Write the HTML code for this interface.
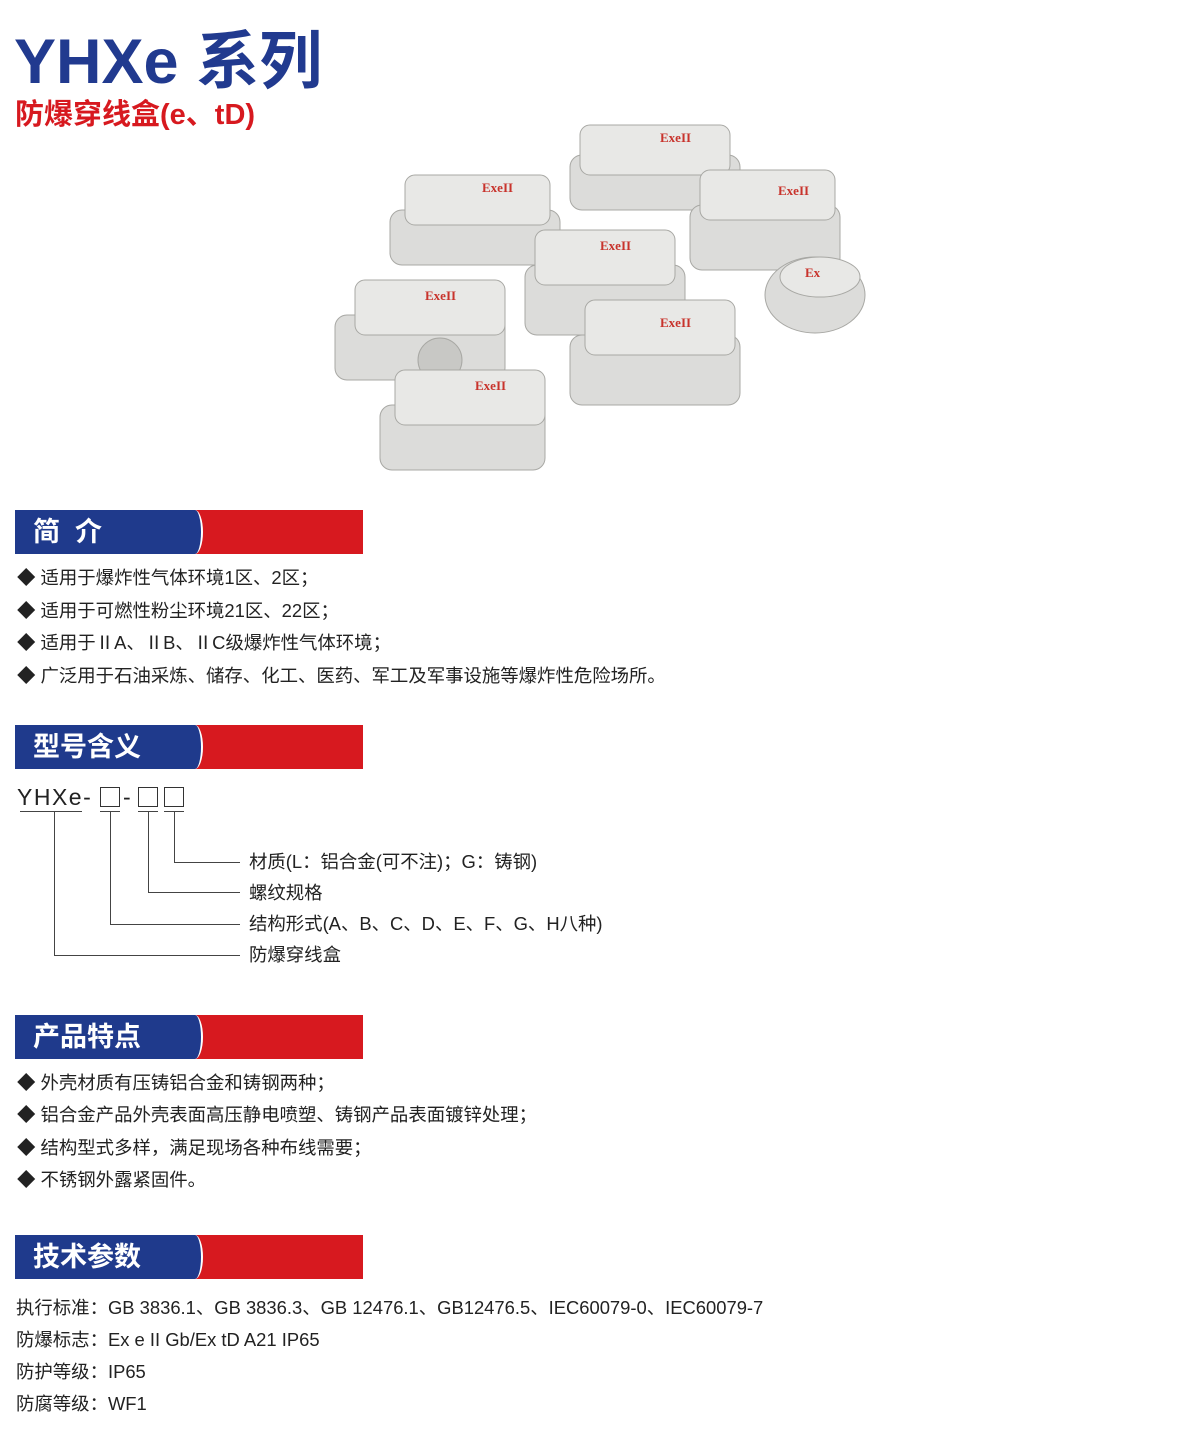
<!DOCTYPE html>
<html><head><meta charset="utf-8"><style>
body{margin:0;width:1200px;height:1450px;background:#fff;position:relative;font-family:"Liberation Sans","Noto Sans CJK SC",sans-serif;color:#222;overflow:hidden}
.a{position:absolute;white-space:nowrap}
.t{font-size:18.4px;line-height:20px}
.ban{position:absolute;left:15px;width:348px;height:44px;background:#d7191f;overflow:hidden}
.ban .b{position:absolute;left:0;top:0;width:186px;height:44px;background:#1f3a8c;border-right:2px solid #fff;border-radius:0 8px 8px 0/0 22px 22px 0}
.ban span{position:absolute;left:18px;top:6px;color:#fff;font-size:27px;font-weight:bold;line-height:32px}
.ln{position:absolute;background:#444}
.sq{position:absolute;top:787px;width:18px;height:18px;border:1.5px solid #333}
</style></head><body>
<div class="a" style="left:14px;top:26px;font-size:63px;font-weight:bold;color:#213a8f;line-height:72px">YHXe 系列</div>
<div class="a" style="left:15px;top:98px;font-size:29px;font-weight:bold;color:#d7191f;line-height:34px">防爆穿线盒(e、tD)</div>

<svg class="a" style="left:330px;top:115px" width="550" height="370">
<g fill="#dcdcda" stroke="#a8a8a4">
<rect x="240" y="40" width="170" height="55" rx="12"/><rect x="250" y="10" width="150" height="50" rx="10" fill="#e8e8e6"/>
<rect x="60" y="95" width="170" height="55" rx="12"/><rect x="75" y="60" width="145" height="50" rx="10" fill="#e8e8e6"/>
<rect x="360" y="90" width="150" height="65" rx="12"/><rect x="370" y="55" width="135" height="50" rx="10" fill="#e8e8e6"/>
<rect x="195" y="150" width="160" height="70" rx="12"/><rect x="205" y="115" width="140" height="55" rx="10" fill="#e8e8e6"/>
<ellipse cx="485" cy="180" rx="50" ry="38"/><ellipse cx="490" cy="162" rx="40" ry="20" fill="#e8e8e6"/>
<rect x="5" y="200" width="170" height="65" rx="12"/><rect x="25" y="165" width="150" height="55" rx="10" fill="#e8e8e6"/>
<circle cx="110" cy="245" r="22" fill="#c8c8c5"/>
<rect x="240" y="220" width="170" height="70" rx="12"/><rect x="255" y="185" width="150" height="55" rx="10" fill="#e8e8e6"/>
<rect x="50" y="290" width="165" height="65" rx="12"/><rect x="65" y="255" width="150" height="55" rx="10" fill="#e8e8e6"/>
</g>
<g fill="#c8332c" font-size="13" font-weight="bold" font-family="Liberation Serif">
<text x="330" y="27">ExeII</text><text x="152" y="77">ExeII</text><text x="448" y="80">ExeII</text><text x="270" y="135">ExeII</text><text x="475" y="162">Ex</text><text x="95" y="185">ExeII</text><text x="330" y="212">ExeII</text><text x="145" y="275">ExeII</text>
</g>
</svg>

<div class="ban" style="top:510px"><div class="b"></div><span>简&nbsp;&nbsp;介</span></div>
<div class="a t" style="left:17px;top:568px">◆ 适用于爆炸性气体环境1区、2区；</div>
<div class="a t" style="left:17px;top:601px">◆ 适用于可燃性粉尘环境21区、22区；</div>
<div class="a t" style="left:17px;top:633px">◆ 适用于ⅡA、ⅡB、ⅡC级爆炸性气体环境；</div>
<div class="a t" style="left:17px;top:666px">◆ 广泛用于石油采炼、储存、化工、医药、军工及军事设施等爆炸性危险场所。</div>

<div class="ban" style="top:725px"><div class="b"></div><span>型号含义</span></div>
<div class="a" style="left:17px;top:784px;font-size:23px;line-height:26px;letter-spacing:1.5px">YHXe-</div>
<div class="sq" style="left:100px"></div>
<div class="a" style="left:123px;top:784px;font-size:23px;line-height:26px">-</div>
<div class="sq" style="left:138px"></div>
<div class="sq" style="left:164px"></div>
<div class="ln" style="left:20px;top:811px;width:62px;height:1px"></div>
<div class="ln" style="left:100px;top:811px;width:20px;height:1px"></div>
<div class="ln" style="left:138px;top:811px;width:20px;height:1px"></div>
<div class="ln" style="left:164px;top:811px;width:20px;height:1px"></div>
<div class="ln" style="left:174px;top:811px;width:1px;height:52px"></div><div class="ln" style="left:174px;top:862px;width:66px;height:1px"></div>
<div class="ln" style="left:148px;top:811px;width:1px;height:82px"></div><div class="ln" style="left:148px;top:892px;width:92px;height:1px"></div>
<div class="ln" style="left:110px;top:811px;width:1px;height:114px"></div><div class="ln" style="left:110px;top:924px;width:130px;height:1px"></div>
<div class="ln" style="left:54px;top:811px;width:1px;height:145px"></div><div class="ln" style="left:54px;top:955px;width:186px;height:1px"></div>
<div class="a t" style="left:249px;top:852px">材质(L：铝合金(可不注)；G：铸钢)</div>
<div class="a t" style="left:249px;top:883px">螺纹规格</div>
<div class="a t" style="left:249px;top:914px">结构形式(A、B、C、D、E、F、G、H八种)</div>
<div class="a t" style="left:249px;top:945px">防爆穿线盒</div>

<div class="ban" style="top:1015px"><div class="b"></div><span>产品特点</span></div>
<div class="a t" style="left:17px;top:1073px">◆ 外壳材质有压铸铝合金和铸钢两种；</div>
<div class="a t" style="left:17px;top:1105px">◆ 铝合金产品外壳表面高压静电喷塑、铸钢产品表面镀锌处理；</div>
<div class="a t" style="left:17px;top:1138px">◆ 结构型式多样，满足现场各种布线需要；</div>
<div class="a t" style="left:17px;top:1170px">◆ 不锈钢外露紧固件。</div>

<div class="ban" style="top:1235px"><div class="b"></div><span>技术参数</span></div>
<div class="a t" style="left:16px;top:1298px">执行标准：GB 3836.1、GB 3836.3、GB 12476.1、GB12476.5、IEC60079-0、IEC60079-7</div>
<div class="a t" style="left:16px;top:1330px">防爆标志：Ex e II Gb/Ex tD A21 IP65</div>
<div class="a t" style="left:16px;top:1362px">防护等级：IP65</div>
<div class="a t" style="left:16px;top:1394px">防腐等级：WF1</div>
</body></html>
